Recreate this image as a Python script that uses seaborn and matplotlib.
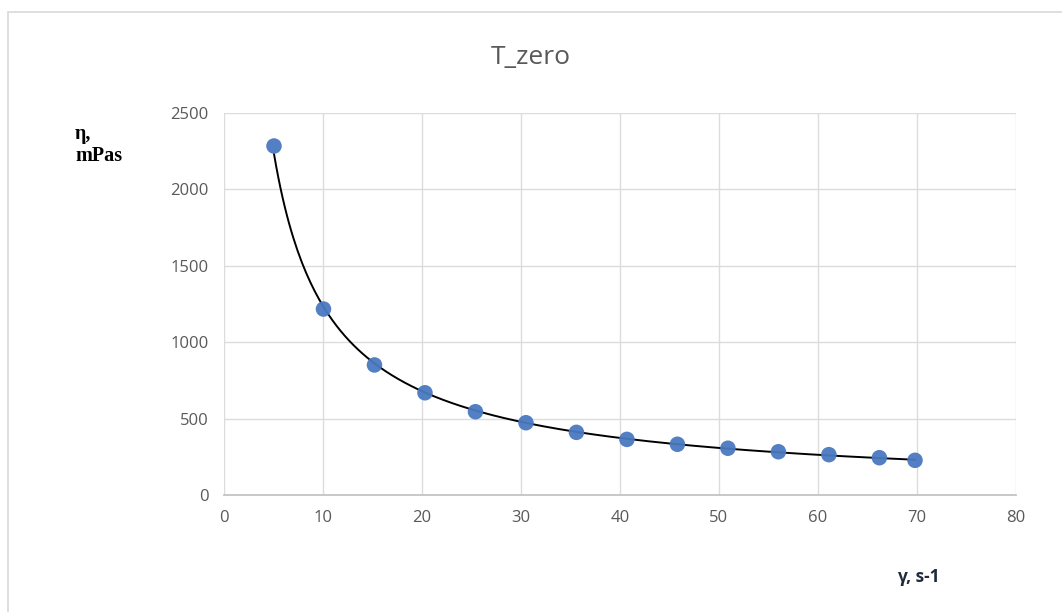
import numpy as np
import pandas as pd
import matplotlib.pyplot as plt
import seaborn as sns
from matplotlib.patches import Rectangle

# shear rate (s-1) and viscosity (mPas)
shear_rate = [5.05, 10.05, 15.2, 20.3, 25.4, 30.5, 35.6, 40.7, 45.8, 50.9, 56.0, 61.1, 66.2, 69.8]
viscosity = [2284, 1217, 851, 669, 545, 473, 410, 364, 332, 306, 283, 264, 244, 227]

x_ticks = [0, 10, 20, 30, 40, 50, 60, 70, 80]
y_ticks = [0, 500, 1000, 1500, 2000, 2500]

df = pd.DataFrame({"gamma": shear_rate, "eta": viscosity})

sns.set_style("white")
plt.rcParams['font.family'] = ['Open Sans', 'DejaVu Sans']

fig = plt.figure(figsize=(10.62, 6.12), dpi=100)
ax = fig.add_axes([224 / 1062, 1 - 495 / 612, (1016 - 224) / 1062, (495 - 113) / 612])

# outer chart border
fig.patches.append(Rectangle((8 / 1062, -0.05), 1.1, 1 - 12 / 612 + 0.05,
                             transform=fig.transFigure, fill=False,
                             edgecolor="#d9d9d9", linewidth=1.2, zorder=0))

# power trendline (log-log least squares, like Excel)
b, log_a = np.polyfit(np.log(df["gamma"]), np.log(df["eta"]), 1)
xs = np.linspace(df["gamma"].min(), df["gamma"].max(), 300)
sns.lineplot(x=xs, y=np.exp(log_a) * xs ** b, ax=ax, color="black", linewidth=1.4, zorder=3)

sns.scatterplot(data=df, x="gamma", y="eta", ax=ax, s=125, color="#4a78c0",
                edgecolor="none", alpha=0.95, zorder=4)

ax.set_xlim(0, 80)
ax.set_ylim(0, 2500)
ax.set_xticks(x_ticks)
ax.set_yticks(y_ticks)
ax.grid(True, color="#dcdcdc", linewidth=1)
ax.set_axisbelow(True)
for side in ["top", "right", "left"]:
    ax.spines[side].set_visible(False)
ax.spines["bottom"].set_color("#bfbfbf")
ax.spines["bottom"].set_linewidth(1.2)
ax.tick_params(axis="both", length=0, labelsize=12, colors="#595959", pad=11)
ax.set_xlabel("")
ax.set_ylabel("")

fig.text(531 / 1062, 1 - 57 / 612, "T_zero", ha="center", va="center",
         fontsize=19, color="#595959")
fig.text(75 / 1062, 1 - 145 / 612, "η,\nmPas", ha="left", va="center",
         fontsize=14.5, fontweight="bold", family=["Liberation Serif", "DejaVu Serif"],
         color="black", linespacing=1.15)
fig.text(897 / 1062, 1 - 577 / 612, "γ, s-1", ha="left", va="center",
         fontsize=12.5, fontweight="bold", color="#1f2a3a")

fig.savefig("out.png", dpi=100)
